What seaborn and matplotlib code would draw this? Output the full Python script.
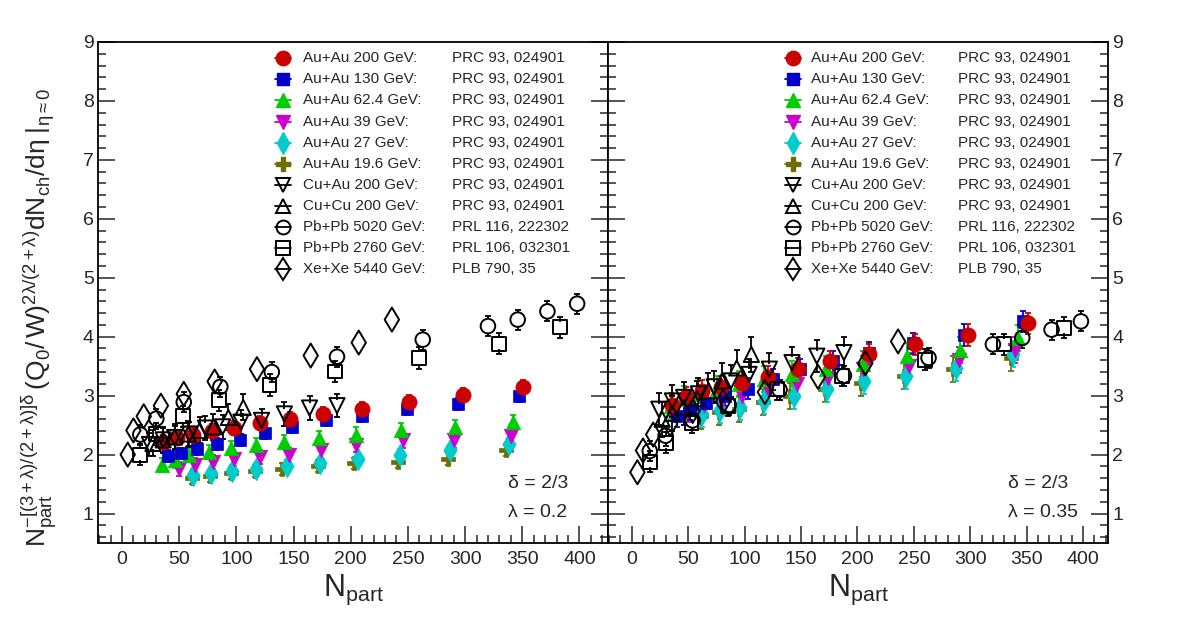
import numpy as np
import matplotlib
matplotlib.use("Agg")
import matplotlib.pyplot as plt
from matplotlib.ticker import MultipleLocator
import seaborn as sns

# Npart values and scaled multiplicity for lambda=0.2 (left) and lambda=0.35 (right)
npart_auau200 = [351, 298, 251, 210, 176, 147, 121, 98, 79, 62, 48, 36]
auau200_l = [3.14, 3.01, 2.89, 2.77, 2.69, 2.61, 2.53, 2.45, 2.40, 2.34, 2.28, 2.22]
auau200_r = [4.23, 4.03, 3.87, 3.70, 3.58, 3.46, 3.32, 3.22, 3.15, 3.08, 2.97, 2.84]

npart_auau130 = [347, 294, 249, 210, 178, 149, 125, 103, 83, 66, 52, 40]
auau130_l = [3.00, 2.86, 2.77, 2.66, 2.58, 2.47, 2.36, 2.25, 2.18, 2.10, 2.02, 1.97]
auau130_r = [4.26, 4.03, 3.89, 3.73, 3.58, 3.45, 3.28, 3.12, 3.00, 2.87, 2.77, 2.65]

npart_auau62 = [342, 291, 244, 205, 172, 142, 117, 95, 76, 59, 46, 35]
auau62_l = [2.55, 2.47, 2.41, 2.34, 2.28, 2.21, 2.16, 2.11, 2.05, 1.99, 1.90, 1.82]
auau62_r = [3.98, 3.78, 3.67, 3.53, 3.45, 3.36, 3.28, 3.19, 3.11, 3.03, 2.94, 2.83]

npart_auau39 = [340, 290, 246, 205, 174, 146, 121, 98, 80, 64, 50]
auau39_l = [2.32, 2.24, 2.24, 2.16, 2.07, 2.00, 1.96, 1.92, 1.88, 1.83, 1.75]
auau39_r = [3.78, 3.61, 3.50, 3.45, 3.30, 3.19, 3.11, 3.00, 2.91, 2.84, 2.77]

npart_auau27 = [338, 287, 243, 206, 173, 144, 117, 96, 78, 62]
auau27_l = [2.18, 2.07, 1.99, 1.92, 1.85, 1.81, 1.75, 1.72, 1.68, 1.65]
auau27_r = [3.70, 3.47, 3.33, 3.25, 3.12, 3.00, 2.91, 2.80, 2.75, 2.69]

npart_auau19 = [336, 285, 241, 203, 171, 140, 116, 95, 77, 61]
auau19_l = [2.07, 1.93, 1.88, 1.85, 1.81, 1.76, 1.72, 1.69, 1.63, 1.60]
auau19_r = [3.64, 3.45, 3.33, 3.22, 3.11, 2.99, 2.90, 2.78, 2.72, 2.66]

npart_cuau = [188, 164, 142, 122, 104, 88, 73, 59, 46, 36, 24]
cuau_l = [2.83, 2.79, 2.69, 2.58, 2.55, 2.47, 2.45, 2.35, 2.29, 2.25, 2.17]
cuau_r = [3.73, 3.67, 3.56, 3.45, 3.36, 3.25, 3.15, 3.03, 2.97, 2.91, 2.77]

npart_cucu = [106, 93, 80, 68, 58, 46, 36, 27]
cucu_l = [2.80, 2.63, 2.47, 2.41, 2.35, 2.30, 2.25, 2.19]
cucu_r = [3.70, 3.47, 3.25, 3.08, 2.95, 2.80, 2.70, 2.60]

npart_pbpb5020 = [398, 372, 346, 320, 263, 188, 131, 86, 54, 30, 16]
pbpb5020_l = [4.56, 4.43, 4.29, 4.18, 3.95, 3.66, 3.40, 3.15, 2.89, 2.61, 2.34]
pbpb5020_r = [4.26, 4.12, 3.98, 3.87, 3.64, 3.34, 3.10, 2.84, 2.58, 2.32, 2.06]

npart_pbpb2760 = [383, 330, 260, 186, 129, 85, 53, 30, 16]
pbpb2760_l = [4.16, 3.88, 3.64, 3.41, 3.18, 2.92, 2.65, 2.35, 2.00]
pbpb2760_r = [4.15, 3.87, 3.61, 3.34, 3.11, 2.83, 2.54, 2.20, 1.88]

npart_xexe = [236, 207, 165, 118, 81, 54, 34, 19, 10, 5]
xexe_l = [4.29, 3.90, 3.68, 3.45, 3.24, 3.03, 2.83, 2.65, 2.41, 2.00]
xexe_r = [3.92, 3.55, 3.32, 3.06, 2.90, 2.74, 2.52, 2.34, 2.07, 1.70]

# error sizes (left panel, right panel)
errors = {
    "Au+Au 200 GeV:": (0.12, 0.18), "Au+Au 130 GeV:": (0.10, 0.18),
    "Au+Au 62.4 GeV:": (0.12, 0.22), "Au+Au 39 GeV:": (0.12, 0.22),
    "Au+Au 27 GeV:": (0.10, 0.22), "Au+Au 19.6 GeV:": (0.10, 0.22),
    "Cu+Au 200 GeV:": (0.20, 0.27), "Cu+Cu 200 GeV:": (0.22, 0.30),
    "Pb+Pb 5020 GeV:": (0.17, 0.17), "Pb+Pb 2760 GeV:": (0.18, 0.18),
    "Xe+Xe 5440 GeV:": (0.0, 0.0),
}

# (label, reference, npart, left, right)
series = [
    ("Au+Au 200 GeV:", "PRC 93, 024901", npart_auau200, auau200_l, auau200_r),
    ("Au+Au 130 GeV:", "PRC 93, 024901", npart_auau130, auau130_l, auau130_r),
    ("Au+Au 62.4 GeV:", "PRC 93, 024901", npart_auau62, auau62_l, auau62_r),
    ("Au+Au 39 GeV:", "PRC 93, 024901", npart_auau39, auau39_l, auau39_r),
    ("Au+Au 27 GeV:", "PRC 93, 024901", npart_auau27, auau27_l, auau27_r),
    ("Au+Au 19.6 GeV:", "PRC 93, 024901", npart_auau19, auau19_l, auau19_r),
    ("Cu+Au 200 GeV:", "PRC 93, 024901", npart_cuau, cuau_l, cuau_r),
    ("Cu+Cu 200 GeV:", "PRC 93, 024901", npart_cucu, cucu_l, cucu_r),
    ("Pb+Pb 5020 GeV:", "PRL 116, 222302", npart_pbpb5020, pbpb5020_l, pbpb5020_r),
    ("Pb+Pb 2760 GeV:", "PRL 106, 032301", npart_pbpb2760, pbpb2760_l, pbpb2760_r),
    ("Xe+Xe 5440 GeV:", "PLB 790, 35", npart_xexe, xexe_l, xexe_r),
]

# marker, colour, filled, size, gap (half marker height in y units, for open markers)
styles = [
    ("o", "#cc0000", True, 120, 0.0),
    ("s", "#0000cc", True, 85, 0.0),
    ("^", "#00cc00", True, 110, 0.0),
    ("v", "#cc00cc", True, 110, 0.0),
    ("d", "#00cccc", True, 130, 0.0),
    ("P", "#6e6e00", True, 110, 0.0),
    ("v", "black", False, 120, 0.09),
    ("^", "black", False, 120, 0.09),
    ("o", "black", False, 110, 0.12),
    ("s", "black", False, 100, 0.095),
    ("d", "black", False, 150, 0.16),
]

sns.set_style("ticks")
plt.rcParams["font.family"] = ["Liberation Sans", "DejaVu Sans"]
plt.rcParams["mathtext.fontset"] = "custom"
plt.rcParams["mathtext.rm"] = "Liberation Sans"
plt.rcParams["mathtext.it"] = "Liberation Sans"
plt.rcParams["mathtext.bf"] = "Liberation Sans:bold"

fig = plt.figure(figsize=(11.82, 6.23), dpi=100)
ax_l = fig.add_axes([0.0829, 0.1284, 0.4315, 0.8042])
ax_r = fig.add_axes([0.5144, 0.1284, 0.4230, 0.8042])


def draw_panel(ax, idx, eidx):
    # colored series first (back to front), then the open black ones
    order = [5, 4, 3, 2, 1, 0, 6, 7, 8, 9, 10]
    for i in order:
        s = series[i]
        marker, col, filled, size, gap = styles[i]
        x = np.array(s[2])
        y = np.array(s[idx])
        e = errors[s[0]][eidx]
        if e > 0 and filled:
            ax.errorbar(x, y, yerr=e, fmt="none", ecolor=col, elinewidth=1.3,
                        capsize=2.5, capthick=1.3, zorder=2)
        elif e > 0:
            # ROOT style: bar starts at the marker edge
            ax.vlines(x, y + gap, y + e, color=col, lw=1.3, zorder=2)
            ax.vlines(x, y - e, y - gap, color=col, lw=1.3, zorder=2)
            ax.plot(x, y + e, ls="none", marker="_", ms=5, mew=1.3, color=col, zorder=2)
            ax.plot(x, y - e, ls="none", marker="_", ms=5, mew=1.3, color=col, zorder=2)
        if filled:
            sns.scatterplot(x=x, y=y, marker=marker, s=size, color=col,
                            edgecolor=col, linewidth=0.5, zorder=3, ax=ax, legend=False)
        else:
            sns.scatterplot(x=x, y=y, marker=marker, s=size, color="black",
                            facecolor="none", edgecolor="black", linewidth=1.4,
                            zorder=3, ax=ax, legend=False)


def draw_legend(ax, mx, lx, rx):
    for i, s in enumerate(series):
        marker, col, filled, size, gap = styles[i]
        ry = (543 - (58.3 + 21.07 * i)) / 501
        ax.plot([mx - 0.016, mx + 0.016], [ry, ry], color=col, lw=1.3,
                transform=ax.transAxes, clip_on=False)
        ms = np.sqrt(size) * 0.95
        if filled:
            ax.plot([mx], [ry], marker=marker, ms=ms, color=col, mec=col,
                    transform=ax.transAxes, clip_on=False)
        else:
            ax.plot([mx], [ry], marker=marker, ms=ms, mfc="none", mec="black",
                    mew=1.4, transform=ax.transAxes, clip_on=False)
        ax.text(lx, ry, s[0], transform=ax.transAxes, fontsize=11, va="center")
        ax.text(rx, ry, s[1], transform=ax.transAxes, fontsize=11, va="center")


draw_panel(ax_l, 3, 0)
draw_panel(ax_r, 4, 1)
draw_legend(ax_l, 0.3627, 0.402, 0.6935)
draw_legend(ax_r, 0.37, 0.406, 0.70)

for ax in (ax_l, ax_r):
    ax.set_xlim(-21, 425 if ax is ax_l else 422)
    ax.set_ylim(0.5, 9)
    ax.xaxis.set_major_locator(MultipleLocator(50))
    ax.xaxis.set_minor_locator(MultipleLocator(10))
    ax.yaxis.set_major_locator(MultipleLocator(1))
    ax.yaxis.set_minor_locator(MultipleLocator(0.2))
    ax.tick_params(which="both", direction="in", left=True, right=True,
                   bottom=True, top=False, labelsize=14, width=1.1)
    ax.tick_params(which="major", length=12)
    ax.tick_params(axis="x", which="major", pad=6)
    ax.tick_params(axis="y", which="major", pad=3)
    ax.tick_params(which="minor", length=6)
    for sp in ax.spines.values():
        sp.set_linewidth(1.3)
        sp.set_color("black")
    ax.set_xlabel(r"$\mathregular{N_{part}}$", fontsize=22, labelpad=3)
    ax.set_ylabel("")
    ax.set_yticks([1, 2, 3, 4, 5, 6, 7, 8, 9])

ax_r.tick_params(labelleft=False, labelright=True)

ax_l.text(0.804, 0.118, "δ = 2/3", transform=ax_l.transAxes, fontsize=14, va="center")
ax_l.text(0.804, 0.060, "λ = 0.2", transform=ax_l.transAxes, fontsize=14, va="center")
ax_r.text(0.80, 0.118, "δ = 2/3", transform=ax_r.transAxes, fontsize=14, va="center")
ax_r.text(0.80, 0.060, "λ = 0.35", transform=ax_r.transAxes, fontsize=14, va="center")

fig.text(0.034, 0.49,
         r"$\mathregular{N_{part}^{-[(3+\lambda)/(2+\lambda)]\delta}\,(Q_{0}/\,W)^{2\lambda/(2+\lambda)}dN_{ch}/d\eta\;|_{\eta\approx0}}$",
         rotation=90, fontsize=19, ha="center", va="center")

fig.savefig("out.png", dpi=100)
